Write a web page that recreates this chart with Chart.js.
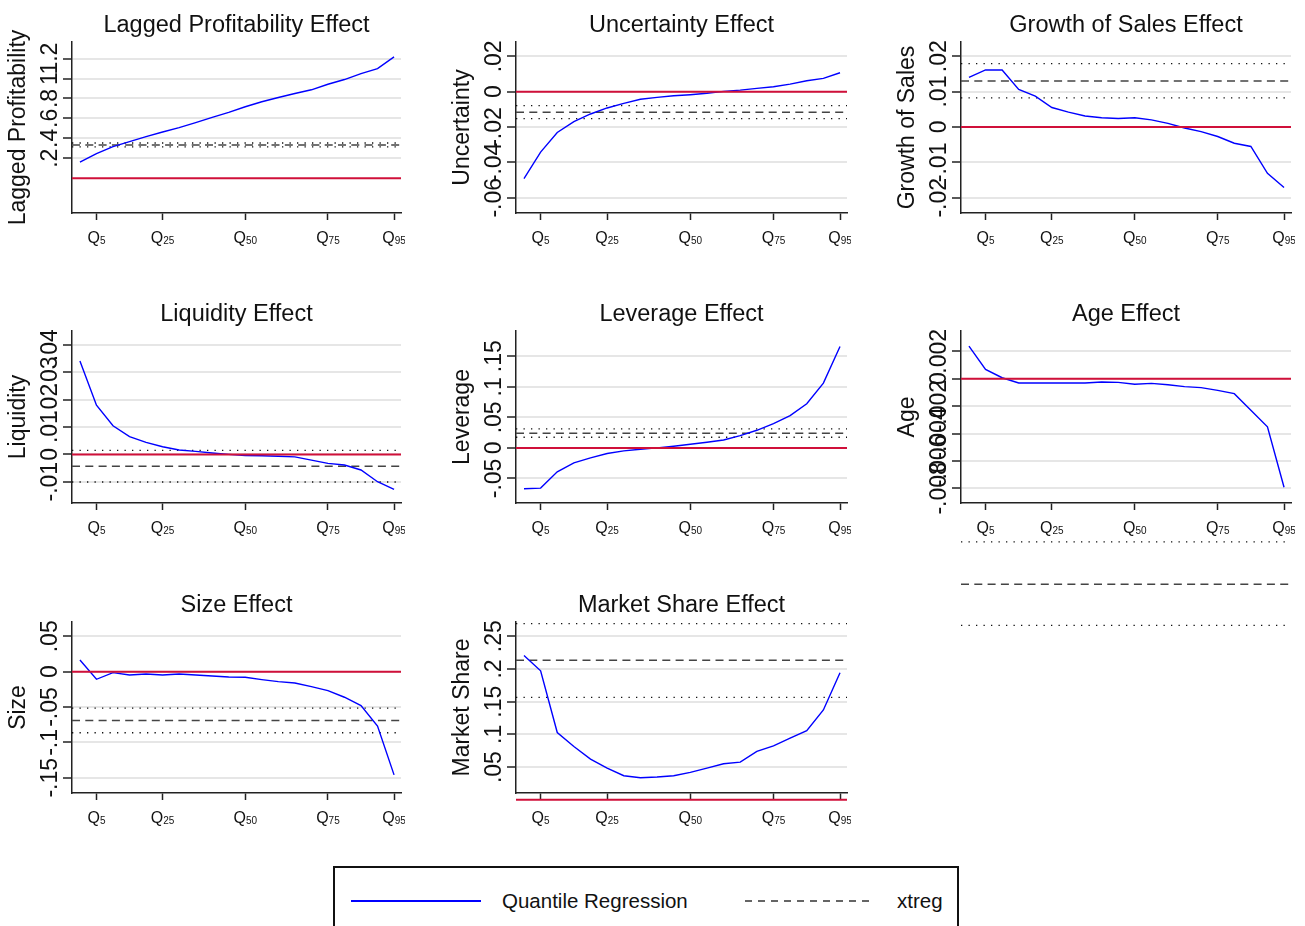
<!DOCTYPE html>
<html>
<head>
<meta charset="utf-8">
<script src="https://cdn.jsdelivr.net/npm/chart.js@4.4.1/dist/chart.umd.min.js"></script>
<style>
  html, body { margin: 0; padding: 0; background: #fff; overflow: hidden; width: 1305px; height: 926px; }
  body { position: relative; font-family: "Liberation Sans", Arial, sans-serif; }
  #legend { position: absolute; left: 333px; top: 866px; }
</style>
</head>
<body>
<svg id="legend" width="628" height="80">
  <rect x="1" y="1" width="624" height="100" fill="none" stroke="#111" stroke-width="2"/>
  <line x1="18" y1="35" x2="148" y2="35" stroke="#0000ff" stroke-width="2.2"/>
  <text x="169" y="42" font-family="Liberation Sans, Arial, sans-serif" font-size="20.5" fill="#111">Quantile Regression</text>
  <line x1="412" y1="35" x2="542" y2="35" stroke="#333" stroke-width="1.3" stroke-dasharray="7 6"/>
  <text x="564" y="42" font-family="Liberation Sans, Arial, sans-serif" font-size="20.5" fill="#111">xtreg</text>
</svg>
<script>
const FONT = '"Liberation Sans", Arial, sans-serif';
const RED = "#d0103a";

// quantile grid of the regressions
const quantiles = [0, 5, 10, 15, 20, 25, 30, 35, 40, 45, 50, 55, 60, 65, 70, 75, 80, 85, 90, 95];
const xTicks = [5, 25, 50, 75, 95];
const xTickSubs = ["5", "25", "50", "75", "95"];

// quantile regression coefficients
const profitQR = [0.16, 0.247, 0.317, 0.367, 0.417, 0.463, 0.507, 0.557, 0.61, 0.66, 0.717, 0.767, 0.81, 0.85, 0.887, 0.943, 0.99, 1.05, 1.1, 1.217];
const uncertQR = [-0.0492, -0.0342, -0.0231, -0.0169, -0.0126, -0.0092, -0.0066, -0.0043, -0.0032, -0.0023, -0.0017, -0.0009, 0.0002, 0.0009, 0.0019, 0.0028, 0.0043, 0.0062, 0.0075, 0.0107];
const growthQR = [0.014, 0.0161, 0.0161, 0.0106, 0.0087, 0.0055, 0.0042, 0.0031, 0.0026, 0.0024, 0.0026, 0.002, 0.001, -0.0003, -0.0013, -0.0027, -0.0046, -0.0055, -0.0131, -0.0171];
const liquidQR = [0.0342, 0.018, 0.0105, 0.0065, 0.0044, 0.0028, 0.0016, 0.0011, 0.0005, 0, -0.0004, -0.0005, -0.0007, -0.0009, -0.0021, -0.0033, -0.0039, -0.0057, -0.01, -0.0128];
const leverQR = [-0.0668, -0.0658, -0.0391, -0.0245, -0.0163, -0.0092, -0.0049, -0.0022, 0, 0.0027, 0.006, 0.0092, 0.013, 0.0201, 0.0288, 0.0397, 0.0527, 0.0723, 0.106, 0.1658];
const ageQR = [0.00237, 0.00068, 0.00007, -0.00031, -0.00031, -0.00031, -0.00031, -0.00031, -0.00024, -0.00027, -0.00041, -0.00034, -0.00044, -0.00058, -0.00065, -0.00085, -0.00109, -0.0023, -0.00351, -0.00792];
const sizeQR = [0.0164, -0.0108, -0.0014, -0.0047, -0.0033, -0.0047, -0.0033, -0.0047, -0.0061, -0.0075, -0.008, -0.0113, -0.0141, -0.016, -0.0211, -0.0268, -0.0362, -0.0479, -0.077, -0.146];
const shareQR = [0.2206, 0.1972, 0.1028, 0.0815, 0.0622, 0.0485, 0.0368, 0.0338, 0.0348, 0.0368, 0.0419, 0.0485, 0.0551, 0.0576, 0.0739, 0.0825, 0.0942, 0.1058, 0.1373, 0.1942];

// xtreg estimates: [lower, coef, upper]
const profitXT = [0.313, 0.333, 0.353];
const uncertXT = [-0.0152, -0.0116, -0.0079];
const growthXT = [0.0082, 0.013, 0.0179];
const liquidXT = [-0.0101, -0.0043, 0.0015];
const leverXT = [0.0174, 0.024, 0.031];
const ageXT = [-0.018, -0.015, -0.0119];
const sizeXT = [-0.0864, -0.069, -0.0516];
const shareXT = [0.1566, 0.2134, 0.2693];

// y axis ticks and their labels
const profitTicks = [0.2, 0.4, 0.6, 0.8, 1, 1.2];
const profitLabels = [".2", ".4", ".6", ".8", "1", "1.2"];
const uncertTicks = [-0.06, -0.04, -0.02, 0, 0.02];
const uncertLabels = ["-.06", "-.04", "-.02", "0", ".02"];
const growthTicks = [-0.02, -0.01, 0, 0.01, 0.02];
const growthLabels = ["-.02", "-.01", "0", ".01", ".02"];
const liquidTicks = [-0.01, 0, 0.01, 0.02, 0.03, 0.04];
const liquidLabels = ["-.01", "0", ".01", ".02", ".03", ".04"];
const leverTicks = [-0.05, 0, 0.05, 0.1, 0.15];
const leverLabels = ["-.05", "0", ".05", ".1", ".15"];
const ageTicks = [-0.008, -0.006, -0.004, -0.002, 0, 0.002];
const ageLabels = ["-.008", "-.006", "-.004", "-.002", "0", ".002"];
const sizeTicks = [-0.15, -0.1, -0.05, 0, 0.05];
const sizeLabels = ["-.15", "-.1", "-.05", "0", ".05"];
const shareTicks = [0.05, 0.1, 0.15, 0.2, 0.25];
const shareLabels = [".05", ".1", ".15", ".2", ".25"];

// grid of plot regions
const AXIS_X = [72, 516, 961];
const PLOT_RIGHT = [401, 847, 1291];
const PLOT_TOP = [42, 331, 622];
const PLOT_BOTTOM = [213, 503, 793];
const X_MIN = -2.4, X_MAX = 97.1;

const panels = [
  { col: 0, row: 0, title: "Lagged Profitability Effect", axis: "Lagged Profitability", qr: profitQR, xt: profitXT, ticks: profitTicks, labels: profitLabels, min: -0.35, max: 1.367 },
  { col: 1, row: 0, title: "Uncertainty Effect", axis: "Uncertainty", qr: uncertQR, xt: uncertXT, ticks: uncertTicks, labels: uncertLabels, min: -0.0686, max: 0.0281 },
  { col: 2, row: 0, title: "Growth of Sales Effect", axis: "Growth of Sales", qr: growthQR, xt: growthXT, ticks: growthTicks, labels: growthLabels, min: -0.0243, max: 0.024 },
  { col: 0, row: 1, title: "Liquidity Effect", axis: "Liquidity", qr: liquidQR, xt: liquidXT, ticks: liquidTicks, labels: liquidLabels, min: -0.0178, max: 0.0452 },
  { col: 1, row: 1, title: "Leverage Effect", axis: "Leverage", qr: leverQR, xt: leverXT, ticks: leverTicks, labels: leverLabels, min: -0.0902, max: 0.1913 },
  { col: 2, row: 1, title: "Age Effect", axis: "Age", qr: ageQR, xt: ageXT, ticks: ageTicks, labels: ageLabels, min: -0.00907, max: 0.00348, tall: true },
  { col: 0, row: 2, title: "Size Effect", axis: "Size", qr: sizeQR, xt: sizeXT, ticks: sizeTicks, labels: sizeLabels, min: -0.1716, max: 0.0702 },
  { col: 1, row: 2, title: "Market Share Effect", axis: "Market Share", qr: shareQR, xt: shareXT, ticks: shareTicks, labels: shareLabels, min: 0.0104, max: 0.2718 }
];

// vertical y labels and Q with subscript on the x axis
const stataLabels = {
  id: "stataLabels",
  afterDraw(chart, args, opts) {
    const ctx = chart.ctx;
    const area = chart.chartArea;
    const xs = chart.scales.x, ys = chart.scales.y;
    ctx.save();
    ctx.fillStyle = "#111";
    ctx.font = "23px " + FONT;
    ctx.textAlign = "center";
    ctx.textBaseline = "alphabetic";
    opts.ticks.forEach((v, i) => {
      ctx.save();
      ctx.translate(area.left - 15, ys.getPixelForValue(v));
      ctx.rotate(-Math.PI / 2);
      ctx.fillText(opts.labels[i], 0, 0);
      ctx.restore();
    });
    ctx.textAlign = "left";
    xTicks.forEach((v, i) => {
      ctx.font = "16px " + FONT;
      const wq = ctx.measureText("Q").width;
      ctx.font = "10px " + FONT;
      const ws = ctx.measureText(xTickSubs[i]).width;
      const x0 = xs.getPixelForValue(v) - (wq + ws) / 2;
      ctx.font = "16px " + FONT;
      ctx.fillText("Q", x0, area.bottom + 29.5);
      ctx.font = "10px " + FONT;
      ctx.fillText(xTickSubs[i], x0 + wq, area.bottom + 31);
    });
    ctx.restore();
  }
};

function hline(v, color, width, dash, order) {
  return {
    data: [{ x: X_MIN, y: v }, { x: X_MAX, y: v }],
    borderColor: color, borderWidth: width, borderDash: dash,
    pointRadius: 0, clip: false, order: order
  };
}

function makePanel(p) {
  const canvas = document.createElement("canvas");
  const left = AXIS_X[p.col] - 72;
  const top = PLOT_TOP[p.row] - 42;
  const width = PLOT_RIGHT[p.col] - left + 4;
  const height = p.tall ? 350 : 250;
  const xHeight = height - (PLOT_BOTTOM[p.row] - top);
  canvas.width = width;
  canvas.height = height;
  canvas.style.cssText = `position:absolute;left:${left}px;top:${top}px;width:${width}px;height:${height}px`;
  document.body.appendChild(canvas);

  new Chart(canvas, {
    type: "line",
    data: {
      datasets: [
        hline(0, RED, 2, [], 0),
        { data: quantiles.map((q, i) => ({ x: q, y: p.qr[i] })), borderColor: "#0000ff", borderWidth: 1.4, pointRadius: 0, tension: 0, order: 1 },
        hline(p.xt[1], "#444", 1.5, [8, 5.3], 2),
        hline(p.xt[0], "#111", 1.3, [1.3, 6.2], 3),
        hline(p.xt[2], "#111", 1.3, [1.3, 6.2], 3)
      ]
    },
    options: {
      responsive: false,
      animation: false,
      devicePixelRatio: 1,
      layout: { padding: { left: 0, right: 4, top: 0, bottom: 0 } },
      plugins: {
        legend: { display: false },
        tooltip: { enabled: false },
        title: {
          display: true, text: p.title, fullSize: false, color: "#111",
          font: { family: FONT, size: 23.5, weight: "normal" },
          padding: { top: 11, bottom: 2.8 }
        },
        stataLabels: { ticks: p.ticks, labels: p.labels }
      },
      scales: {
        x: {
          type: "linear", min: X_MIN, max: X_MAX,
          afterBuildTicks: s => { s.ticks = xTicks.map(v => ({ value: v })); },
          afterFit: s => { s.height = xHeight; },
          ticks: { display: false },
          grid: { drawOnChartArea: false, tickLength: 7, tickColor: "#222", tickWidth: 1.5 },
          border: { color: "#222", width: 1.5 }
        },
        y: {
          type: "linear", min: p.min, max: p.max,
          afterBuildTicks: s => { s.ticks = p.ticks.map(v => ({ value: v })); },
          afterFit: s => { s.width = 72; },
          ticks: { display: false },
          grid: { color: "#e6e6e6", lineWidth: 2, tickLength: 9, tickColor: "#222", tickWidth: 1.5 },
          border: { color: "#222", width: 1.5 },
          title: {
            display: true, text: p.axis, color: "#111",
            font: { family: FONT, size: 23, weight: "normal" },
            padding: { top: 4.5, bottom: 0 }
          }
        }
      }
    },
    plugins: [stataLabels]
  });
}

panels.forEach(makePanel);
</script>
</body>
</html>
